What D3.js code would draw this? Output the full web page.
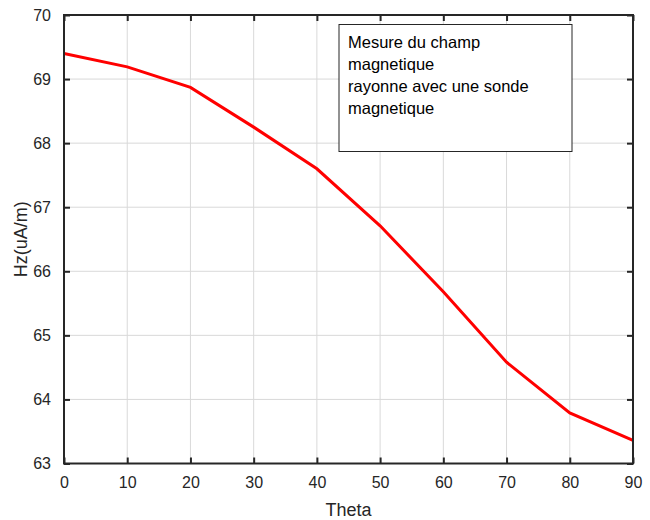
<!DOCTYPE html>
<html>
<head>
<meta charset="utf-8">
<script src="https://cdn.jsdelivr.net/npm/d3@7"></script>
<style>
  body { margin: 0; background: #fff; }
  text { font-family: "Liberation Sans", Arial, sans-serif; }
</style>
</head>
<body>
<div id="chart"></div>
<script>
var theta = [0, 10, 20, 30, 40, 50, 60, 70, 80, 90];
var hz = [69.40, 69.19, 68.87, 68.25, 67.60, 66.71, 65.68, 64.58, 63.79, 63.36];
var xTicks = [0, 10, 20, 30, 40, 50, 60, 70, 80, 90];
var yTicks = [63, 64, 65, 66, 67, 68, 69, 70];
var legendLines = ["Mesure du champ", "magnetique", "rayonne avec une sonde", "magnetique"];

var width = 650, height = 520;
var mLeft = 64, mRight = 633, mTop = 15, mBottom = 463.5;

var svg = d3.select("#chart").append("svg")
  .attr("width", width)
  .attr("height", height);

var x = d3.scaleLinear().domain([0, 90]).range([mLeft, mRight]);
var y = d3.scaleLinear().domain([63, 70]).range([mBottom, mTop]);

/* grid */
var grid = svg.append("g").attr("stroke", "#d9d9d9").attr("stroke-width", 1);
grid.selectAll(".vx").data(xTicks.slice(1, -1)).enter().append("line")
  .attr("x1", d => x(d)).attr("x2", d => x(d))
  .attr("y1", mTop).attr("y2", mBottom);
grid.selectAll(".hy").data(yTicks.slice(1, -1)).enter().append("line")
  .attr("y1", d => y(d)).attr("y2", d => y(d))
  .attr("x1", mLeft).attr("x2", mRight);

/* line */
var line = d3.line()
  .x((d, i) => x(theta[i]))
  .y(d => y(d));

svg.append("path")
  .attr("d", line(hz))
  .attr("fill", "none")
  .attr("stroke", "#ff0000")
  .attr("stroke-width", 3);

/* axes */
var tl = 6;
svg.append("g")
  .attr("transform", `translate(0,${mBottom})`)
  .call(d3.axisBottom(x).tickValues(xTicks).tickSize(-tl).tickPadding(13))
  .call(g => g.select(".domain").remove());
svg.append("g")
  .attr("transform", `translate(0,${mTop})`)
  .call(d3.axisTop(x).tickValues(xTicks).tickSize(-tl).tickFormat(""))
  .call(g => g.select(".domain").remove());
svg.append("g")
  .attr("transform", `translate(${mLeft},0)`)
  .call(d3.axisLeft(y).tickValues(yTicks).tickFormat(d3.format("d")).tickSize(-tl).tickPadding(13))
  .call(g => g.select(".domain").remove());
svg.append("g")
  .attr("transform", `translate(${mRight},0)`)
  .call(d3.axisRight(y).tickValues(yTicks).tickSize(-tl).tickFormat(""))
  .call(g => g.select(".domain").remove());

svg.selectAll(".tick line").attr("stroke", "#262626").attr("stroke-width", 2);
svg.selectAll(".tick text")
  .style("font-family", "'Liberation Sans', Arial, sans-serif")
  .style("font-size", "16px")
  .attr("fill", "#262626");

svg.append("rect")
  .attr("x", mLeft).attr("y", mTop)
  .attr("width", mRight - mLeft).attr("height", mBottom - mTop)
  .attr("fill", "none")
  .attr("stroke", "#262626")
  .attr("stroke-width", 2);

/* labels */
svg.append("text")
  .attr("x", (mLeft + mRight) / 2).attr("y", 516)
  .attr("text-anchor", "middle")
  .attr("fill", "#262626")
  .style("font-size", "18px")
  .text("Theta");

svg.append("text")
  .attr("transform", `translate(27,${(mTop + mBottom) / 2}) rotate(-90)`)
  .attr("text-anchor", "middle")
  .attr("fill", "#262626")
  .style("font-size", "18px")
  .text("Hz(uA/m)");

/* legend box */
var lg = svg.append("g");
lg.append("rect")
  .attr("x", 339).attr("y", 24.5)
  .attr("width", 233).attr("height", 127)
  .attr("fill", "#fff")
  .attr("stroke", "#262626")
  .attr("stroke-width", 1);
lg.selectAll("text.lg").data(legendLines).enter().append("text")
  .attr("x", 348)
  .attr("y", (d, i) => 48 + i * 22)
  .style("font-size", "16.5px")
  .attr("fill", "#000")
  .text(d => d);
</script>
</body>
</html>
